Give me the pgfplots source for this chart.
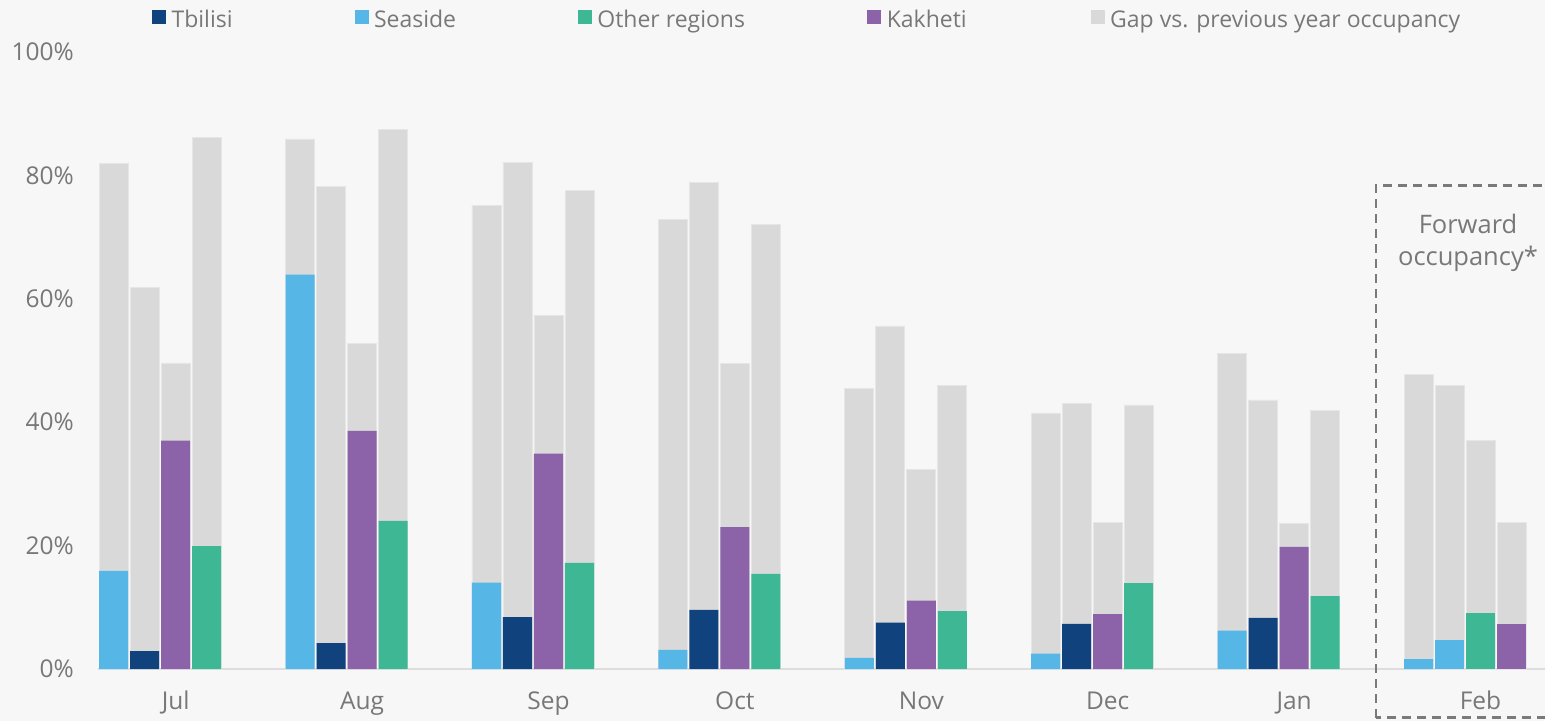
\documentclass[border=0pt]{standalone}
\usepackage{pgfplots}
\pgfplotsset{compat=1.18}
\usepackage{pgfplotstable}
\usepackage{fontspec}
\setmainfont{Open Sans}

\definecolor{tbilisi}{HTML}{10427E}
\definecolor{seaside}{HTML}{56B6E6}
\definecolor{otherreg}{HTML}{3EB894}
\definecolor{kakheti}{HTML}{8C63A8}
\definecolor{gapgray}{HTML}{D9D9D9}
\definecolor{gapedge}{HTML}{E6E6E6}
\definecolor{bgcol}{HTML}{F7F7F7}
\definecolor{txt}{HTML}{787878}
\definecolor{baseln}{HTML}{DDDDDD}
\definecolor{boxcol}{HTML}{7A7A7A}

% occupancy (val) and previous-year occupancy (total), per month index
\pgfplotstableread{
m val total
0 15.9 81.9
1 63.9 85.9
2 14.0 75.1
3 3.1 72.8
4 1.8 45.5
5 2.5 41.5
6 6.2 51.2
7 1.6 47.8
}\tblSeaside
\pgfplotstableread{
m val total
0 2.9 61.9
1 4.2 78.2
2 8.4 82.1
3 9.6 78.8
4 7.5 55.6
5 7.3 43.0
6 8.3 43.6
}\tblTbilisi
\pgfplotstableread{
m val total
0 37.0 49.6
1 38.6 52.7
2 34.9 57.3
3 23.0 49.5
4 11.1 32.3
5 8.9 23.8
6 19.8 23.6
}\tblKakheti
\pgfplotstableread{
m val total
0 19.9 86.1
1 24.0 87.5
2 17.2 77.5
3 15.4 72.0
4 9.4 46.0
5 13.9 42.8
6 11.8 41.9
}\tblOther

\def\slot{0.1663}
\newcommand{\lbl}{\fontsize{23pt}{31pt}\selectfont}
\newcommand{\tlbl}{\fontsize{24.5pt}{31pt}\selectfont}
\newcommand{\blbl}{\fontsize{25.5pt}{32pt}\selectfont}

\begin{document}
\begin{tikzpicture}
\fill[bgcol] (-98pt,-52pt) rectangle (1447pt,669pt);
\begin{axis}[
  scale only axis, width=1447pt, height=617pt,
  xmin=-0.4168, xmax=7.346, ymin=0, ymax=100,
  clip=false,
  axis line style={draw=none},
  major tick length=0pt,
  xtick={0,...,7},
  xticklabels={Jul,Aug,Sep,Oct,Nov,Dec,Jan,Feb},
  ytick={0,20,40,60,80,100},
  yticklabels={0\%,20\%,40\%,60\%,80\%,100\%},
  xticklabel style={font=\tlbl, text=txt, anchor=base, inner sep=0pt, yshift=-40pt},
  yticklabel style={font=\tlbl, text=txt, anchor=east, inner sep=0pt, xshift=-24pt},
  ybar, bar width=0.1556, bar shift=0pt,
  gapbar/.style={fill=gapgray, draw=gapedge, line width=0.8pt, forget plot},
  colbar/.style={fill=#1, draw=none, forget plot},
  legend columns=5,
  legend style={draw=none, fill=none, inner sep=0pt, font=\lbl, text=txt,
    at={(0.03732,1.0527)}, anchor=west,
    nodes={inner sep=0pt},
    /tikz/every odd column/.append style={column sep=6pt},
    /tikz/every even column/.append style={column sep=0pt}},
  legend cell align=left,
]
\addlegendimage{legend image code/.code={\fill[tbilisi] (0pt,-3pt) rectangle (13pt,10pt);}}
\addlegendentry{\makebox[183pt][l]{Tbilisi}}
\addlegendimage{legend image code/.code={\fill[seaside] (0pt,-3pt) rectangle (13pt,10pt);}}
\addlegendentry{\makebox[204pt][l]{Seaside}}
\addlegendimage{legend image code/.code={\fill[otherreg] (0pt,-3pt) rectangle (13pt,10pt);}}
\addlegendentry{\makebox[270pt][l]{Other regions}}
\addlegendimage{legend image code/.code={\fill[kakheti] (0pt,-3pt) rectangle (13pt,10pt);}}
\addlegendentry{\makebox[204pt][l]{Kakheti}}
\addlegendimage{legend image code/.code={\fill[gapgray] (0pt,-3pt) rectangle (13pt,10pt);}}
\addlegendentry{Gap vs. previous year occupancy}

\draw[baseln, line width=2.5pt] (axis cs:-0.4168,0) -- (axis cs:7.346,0);

% slot 0: Seaside
\addplot[gapbar] table[x expr=\thisrow{m}-2*\slot, y=total] {\tblSeaside};
\addplot[colbar=seaside] table[x expr=\thisrow{m}-2*\slot, y=val] {\tblSeaside};
% slot 1: Tbilisi
\addplot[gapbar] table[x expr=\thisrow{m}-\slot, y=total] {\tblTbilisi};
\addplot[colbar=tbilisi] table[x expr=\thisrow{m}-\slot, y=val] {\tblTbilisi};
% slot 2: Kakheti
\addplot[gapbar] table[x expr=\thisrow{m}, y=total] {\tblKakheti};
\addplot[colbar=kakheti] table[x expr=\thisrow{m}, y=val] {\tblKakheti};
% slot 3: Other regions
\addplot[gapbar] table[x expr=\thisrow{m}+\slot, y=total] {\tblOther};
\addplot[colbar=otherreg] table[x expr=\thisrow{m}+\slot, y=val] {\tblOther};

% February (forward occupancy)
\addplot[gapbar] coordinates {(6.8337,46.0)};
\addplot[colbar=seaside] coordinates {(6.8337,4.7)};
\addplot[gapbar] coordinates {(7.0,37.1)};
\addplot[colbar=otherreg] coordinates {(7.0,9.1)};
\addplot[gapbar] coordinates {(7.1663,23.8)};
\addplot[colbar=kakheti] coordinates {(7.1663,7.3)};

\draw[boxcol, line width=2.5pt, dash pattern=on 9pt off 6pt]
  (axis cs:6.439,-7.9) rectangle (axis cs:7.7,78.4);
\node[font=\blbl, text=txt, align=center] at (axis cs:6.933,69.0) {Forward\\occupancy*};
\end{axis}
\pgfresetboundingbox
\useasboundingbox (-98pt,-52pt) rectangle (1447pt,669pt);
\end{tikzpicture}
\end{document}
